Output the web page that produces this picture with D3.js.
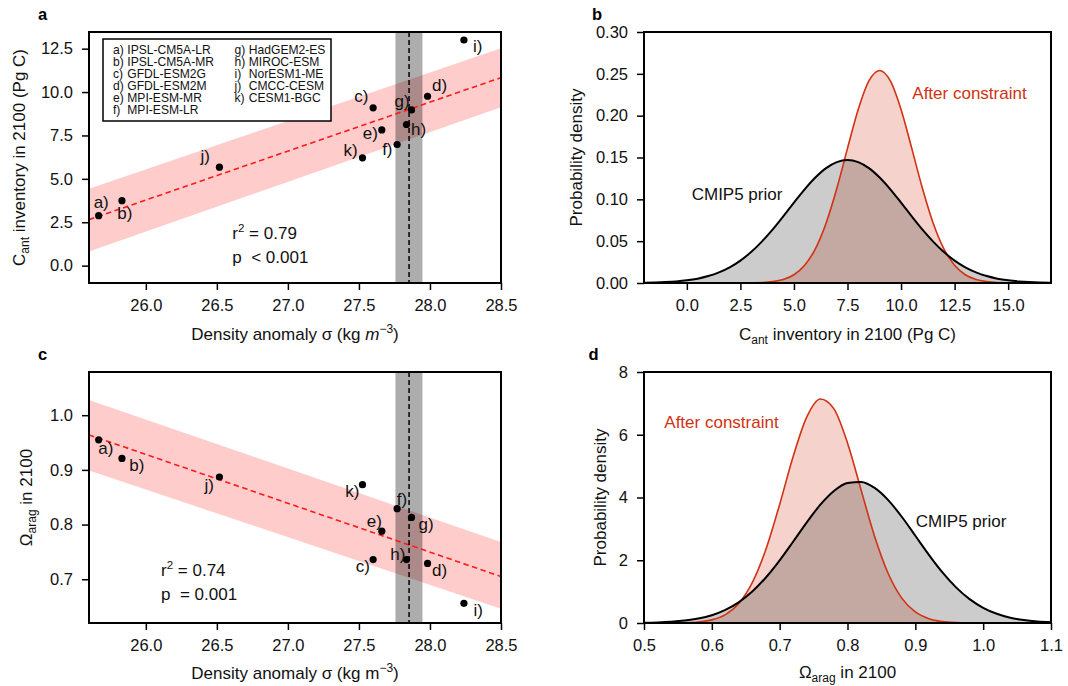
<!DOCTYPE html>
<html><head><meta charset="utf-8">
<script src="https://cdn.jsdelivr.net/npm/d3@7"></script>
<style>
body{margin:0;background:#fff;}
text{font-family:"Liberation Sans",Arial,Helvetica,sans-serif;}
</style></head><body>
<svg id="chart" width="1068" height="686"></svg>
<script>
// ---------------- data ----------------
const modelLetters = ["a","b","c","d","e","f","g","h","i","j","k"];
const modelNames = ["IPSL-CM5A-LR","IPSL-CM5A-MR","GFDL-ESM2G","GFDL-ESM2M","MPI-ESM-MR","MPI-ESM-LR","HadGEM2-ES","MIROC-ESM","NorESM1-ME","CMCC-CESM","CESM1-BGC"];
const densityAnomaly = [25.668,25.832,27.600,27.983,27.661,27.769,27.870,27.835,28.239,26.518,27.525];
const cantInventory = [2.88,3.74,9.09,9.76,7.82,6.98,8.97,8.13,13.00,5.67,6.21];
const omegaArag = [0.955,0.921,0.736,0.729,0.788,0.829,0.813,0.736,0.656,0.887,0.873];

const fitX = [25.6, 28.5];
const fitCant = [2.65, 10.83];
const fitCantLo = [0.82, 9.12];
const fitCantHi = [4.43, 12.52];
const fitOmega = [0.964, 0.705];
const fitOmegaLo = [0.899, 0.646];
const fitOmegaHi = [1.028, 0.768];

const obsDensity = 27.853;
const obsDensityRange = [27.757, 27.947];

const statsA = ["0.79", "<\u00a00.001"];
const statsC = ["0.74", "=\u00a00.001"];

const cantGrid = [-2,-1.5,-1,-0.5,0,0.5,1,1.5,2,2.5,3,3.5,4,4.5,5,5.5,6,6.5,7,7.5,8,8.5,9,9.5,10,10.5,11,11.5,12,12.5,13,13.5,14,14.5,15,15.5,16,16.5,17];
const cantPrior = [0.0003,0.0006,0.0011,0.0019,0.0032,0.0052,0.0083,0.0127,0.0187,0.0268,0.0370,0.0495,0.0638,0.0797,0.0960,0.1120,0.1261,0.1373,0.1445,0.1470,0.1445,0.1373,0.1261,0.1120,0.0960,0.0797,0.0638,0.0495,0.0370,0.0268,0.0187,0.0127,0.0083,0.0052,0.0032,0.0019,0.0011,0.0006,0.0003];
const cantPost = [0,0,0,0,0,0,0,0,0,0,0.0002,0.0005,0.0016,0.0042,0.0099,0.0212,0.0409,0.0715,0.1129,0.1609,0.2074,0.2415,0.2540,0.2415,0.2074,0.1609,0.1129,0.0715,0.0409,0.0212,0.0099,0.0042,0.0016,0.0005,0.0002,0,0,0,0];

const omegaGrid = [0.50,0.52,0.54,0.56,0.58,0.60,0.62,0.64,0.66,0.68,0.70,0.72,0.74,0.76,0.78,0.80,0.82,0.84,0.86,0.88,0.90,0.92,0.94,0.96,0.98,1.00,1.02,1.04,1.06,1.08,1.10];
const omegaPrior = [0.009,0.019,0.039,0.076,0.141,0.249,0.418,0.667,1.012,1.458,1.996,2.597,3.210,3.770,4.207,4.462,4.496,4.305,3.917,3.386,2.782,2.172,1.611,1.135,0.760,0.484,0.293,0.168,0.092,0.048,0.023];
const omegaPost = [0.0001,0.0005,0.0024,0.0096,0.033,0.100,0.268,0.629,1.301,2.365,3.780,5.313,6.567,7.140,6.826,5.739,4.243,2.759,1.578,0.794,0.351,0.137,0.047,0.014,0.004,0.001,0,0,0,0,0];

const densityTicks = [26.0,26.5,27.0,27.5,28.0,28.5];
const cantTicksY = [0,2.5,5,7.5,10,12.5];
const omegaTicksY = [0.7,0.8,0.9,1.0];
const pdfCantTicksX = [0,2.5,5,7.5,10,12.5,15];
const pdfCantTicksY = [0,0.05,0.10,0.15,0.20,0.25,0.30];
const pdfOmegaTicksX = [0.5,0.6,0.7,0.8,0.9,1.0,1.1];
const pdfOmegaTicksY = [0,2,4,6,8];

// ---------------- layout ----------------
const labelOffA = [[-5,-8],[-4.7,18],[-19,-6],[4.4,-5.6],[-19,9],[-15,11],[-17,-3],[4.4,10],[9,11.7],[-19,-5],[-19,-2]];
const labelOffC = [[-0.4,14],[7.3,12.3],[-17.3,12],[4.4,12.4],[-15,-4.6],[-0.3,-4],[7,12.3],[-16.3,0.3],[9.6,12.4],[-15,13.7],[-17.3,12]];

const FS = 17, TFS = 16.5;
const RED = "rgb(208,50,18)";
const svg = d3.select("#chart");

function makePanel(id, box, xd, yd, xt, yt, xf, yf) {
  const [L, T, R, B] = box;
  const x = d3.scaleLinear().domain(xd).range([L, R]);
  const y = d3.scaleLinear().domain(yd).range([B, T]);
  const g = svg.append("g");
  svg.append("defs").append("clipPath").attr("id", "clip" + id)
    .append("rect").attr("x", L).attr("y", T).attr("width", R - L).attr("height", B - T);
  const plot = g.append("g").attr("clip-path", `url(#clip${id})`);
  const ax = g.append("g").attr("transform", `translate(0,${B})`)
    .call(d3.axisBottom(x).tickValues(xt).tickFormat(d3.format(xf)).tickSize(7).tickPadding(9).tickSizeOuter(0));
  const ay = g.append("g").attr("transform", `translate(${L},0)`)
    .call(d3.axisLeft(y).tickValues(yt).tickFormat(d3.format(yf)).tickSize(7).tickPadding(9).tickSizeOuter(0));
  [ax, ay].forEach(a => {
    a.select(".domain").remove();
    a.selectAll("line").attr("stroke-width", 1.5);
    a.selectAll("text").attr("font-size", TFS).attr("fill", "#111").style("font-family", '"Liberation Sans",Arial,sans-serif');
  });
  const frame = g.append("rect").attr("x", L).attr("y", T).attr("width", R - L).attr("height", B - T)
    .attr("fill", "none").attr("stroke", "#000").attr("stroke-width", 2);
  return {g, plot, x, y, frame, box};
}

function panelLetter(t, x, y) {
  svg.append("text").attr("x", x).attr("y", y).attr("font-size", 16.5).attr("font-weight", "bold").text(t);
}

function scatterPanel(P, yvals, fitY, fitLo, fitHi, offs) {
  const {plot, x, y, g} = P;
  const idx = [0, 1];
  plot.append("path").datum(idx)
    .attr("d", d3.area().x(i => x(fitX[i])).y0(i => y(fitLo[i])).y1(i => y(fitHi[i])))
    .attr("fill", "rgba(255,0,0,0.2)");
  plot.append("rect").attr("x", x(obsDensityRange[0])).attr("y", P.box[1])
    .attr("width", x(obsDensityRange[1]) - x(obsDensityRange[0])).attr("height", P.box[3] - P.box[1])
    .attr("fill", "rgba(0,0,0,0.32)");
  plot.append("path").datum(idx)
    .attr("d", d3.line().x(i => x(fitX[i])).y(i => y(fitY[i])))
    .attr("fill", "none").attr("stroke", "#ff1a1a").attr("stroke-width", 1.6).attr("stroke-dasharray", "5.5,3.5");
  plot.append("line").attr("x1", x(obsDensity)).attr("x2", x(obsDensity))
    .attr("y1", P.box[1]).attr("y2", P.box[3])
    .attr("stroke", "#000").attr("stroke-width", 1.5).attr("stroke-dasharray", "5,3");
  g.selectAll(".pt").data(modelLetters).join("circle")
    .attr("cx", (d, i) => x(densityAnomaly[i])).attr("cy", (d, i) => y(yvals[i]))
    .attr("r", 3.6).attr("fill", "#000");
  g.selectAll(".lbl").data(modelLetters).join("text")
    .attr("x", (d, i) => x(densityAnomaly[i]) + offs[i][0])
    .attr("y", (d, i) => y(yvals[i]) + offs[i][1])
    .attr("font-size", FS).attr("fill", "#111").text(d => d + ")");
  P.frame.raise();
}

function statsText(x0, y0, vals) {
  const t1 = svg.append("text").attr("x", x0).attr("y", y0).attr("font-size", FS).attr("fill", "#111");
  t1.append("tspan").text("r");
  t1.append("tspan").attr("dy", -7).attr("font-size", 11.5).text("2");
  t1.append("tspan").attr("dy", 7).text(" = " + vals[0]);
  svg.append("text").attr("x", x0).attr("y", y0 + 24).attr("font-size", FS).attr("fill", "#111")
    .text("p\u00a0\u00a0" + vals[1]);
}

// ---------- Panel a ----------
const PA = makePanel("a", [89, 32, 501, 283], [25.6, 28.5], [-1, 13.46], densityTicks, cantTicksY, ".1f", ".1f");
scatterPanel(PA, cantInventory, fitCant, fitCantLo, fitCantHi, labelOffA);
panelLetter("a", 38, 20);
statsText(232.3, 239, statsA);
// legend
const leg = svg.append("g");
leg.append("rect").attr("x", 103).attr("y", 39).attr("width", 228).attr("height", 82)
  .attr("fill", "#fff").attr("stroke", "#000").attr("stroke-width", 1.5);
modelLetters.forEach((l, i) => {
  const col = i < 6 ? 0 : 1, row = i < 6 ? i : i - 6;
  const lx = col === 0 ? 113 : 234.5;
  const ly = 53.5 + row * 12;
  leg.append("text").attr("x", lx).attr("y", ly).attr("font-size", 12.1).attr("fill", "#111").text(l + ")");
  leg.append("text").attr("x", lx + 14.3).attr("y", ly).attr("font-size", 12.1).attr("fill", "#111").text(modelNames[i]);
});
// axis labels a
{
  const t = svg.append("text").attr("x", 295).attr("y", 340).attr("text-anchor", "middle").attr("font-size", FS).attr("fill", "#111");
  t.append("tspan").text("Density anomaly \u03c3 (kg ");
  t.append("tspan").attr("font-style", "italic").text("m");
  t.append("tspan").attr("dy", -7).attr("font-size", 12).text("\u22123");
  t.append("tspan").attr("dy", 7).text(")");
  const ty = svg.append("text").attr("transform", "translate(25,157.5) rotate(-90)").attr("text-anchor", "middle").attr("font-size", FS).attr("fill", "#111");
  ty.append("tspan").text("C");
  ty.append("tspan").attr("dy", 4).attr("font-size", 12).text("ant");
  ty.append("tspan").attr("dy", -4).text(" inventory in 2100 (Pg C)");
}

// ---------- Panel c ----------
const PC = makePanel("c", [89, 372, 501, 623], [25.6, 28.5], [0.62, 1.079], densityTicks, omegaTicksY, ".1f", ".1f");
scatterPanel(PC, omegaArag, fitOmega, fitOmegaLo, fitOmegaHi, labelOffC);
panelLetter("c", 38, 360);
statsText(161, 576, statsC);
{
  const t = svg.append("text").attr("x", 295).attr("y", 679).attr("text-anchor", "middle").attr("font-size", FS).attr("fill", "#111");
  t.append("tspan").text("Density anomaly \u03c3 (kg m");
  t.append("tspan").attr("dy", -7).attr("font-size", 12).text("\u22123");
  t.append("tspan").attr("dy", 7).text(")");
  const ty = svg.append("text").attr("transform", "translate(31.5,497.5) rotate(-90)").attr("text-anchor", "middle").attr("font-size", FS).attr("fill", "#111");
  ty.append("tspan").text("\u03a9");
  ty.append("tspan").attr("dy", 4).attr("font-size", 12).text("arag");
  ty.append("tspan").attr("dy", -4).text(" in 2100");
}

// ---------- PDF panels ----------
function pdfPanel(P, grid, prior, post) {
  const {plot, x, y} = P;
  const idx = d3.range(grid.length);
  const area = vals => d3.area().curve(d3.curveMonotoneX).x(i => x(grid[i])).y0(y(0)).y1(i => y(vals[i]));
  const line = vals => d3.line().curve(d3.curveMonotoneX).x(i => x(grid[i])).y(i => y(vals[i]));
  plot.append("path").datum(idx).attr("d", area(post)).attr("fill", "rgba(208,50,18,0.22)");
  plot.append("path").datum(idx).attr("d", area(prior)).attr("fill", "rgba(0,0,0,0.2)");
  plot.append("path").datum(idx).attr("d", line(post)).attr("fill", "none").attr("stroke", RED).attr("stroke-width", 1.6);
  plot.append("path").datum(idx).attr("d", line(prior)).attr("fill", "none").attr("stroke", "#000").attr("stroke-width", 2);
  P.frame.raise();
}

const PB = makePanel("b", [644, 32, 1051, 283], [-2, 17], [0, 0.30], pdfCantTicksX, pdfCantTicksY, ".1f", ".2f");
pdfPanel(PB, cantGrid, cantPrior, cantPost);
panelLetter("b", 592, 20);
svg.append("text").attr("x", 912.3).attr("y", 99).attr("font-size", FS).attr("fill", RED).text("After constraint");
svg.append("text").attr("x", 691.7).attr("y", 200).attr("font-size", FS).attr("fill", "#111").text("CMIP5 prior");
{
  const t = svg.append("text").attr("x", 847.5).attr("y", 340).attr("text-anchor", "middle").attr("font-size", FS).attr("fill", "#111");
  t.append("tspan").text("C");
  t.append("tspan").attr("dy", 4).attr("font-size", 12).text("ant");
  t.append("tspan").attr("dy", -4).text(" inventory in 2100 (Pg C)");
  svg.append("text").attr("transform", "translate(582,157.5) rotate(-90)").attr("text-anchor", "middle").attr("font-size", FS).attr("fill", "#111").text("Probability density");
}

const PD = makePanel("d", [644, 372, 1051, 623], [0.5, 1.1], [0, 8], pdfOmegaTicksX, pdfOmegaTicksY, ".1f", "d");
pdfPanel(PD, omegaGrid, omegaPrior, omegaPost);
panelLetter("d", 588.5, 360);
svg.append("text").attr("x", 664.3).attr("y", 427.5).attr("font-size", FS).attr("fill", RED).text("After constraint");
svg.append("text").attr("x", 915.7).attr("y", 526.5).attr("font-size", FS).attr("fill", "#111").text("CMIP5 prior");
{
  const t = svg.append("text").attr("x", 847.5).attr("y", 678).attr("text-anchor", "middle").attr("font-size", FS).attr("fill", "#111");
  t.append("tspan").text("\u03a9");
  t.append("tspan").attr("dy", 4).attr("font-size", 12).text("arag");
  t.append("tspan").attr("dy", -4).text(" in 2100");
  svg.append("text").attr("transform", "translate(606,497.5) rotate(-90)").attr("text-anchor", "middle").attr("font-size", FS).attr("fill", "#111").text("Probability density");
}
</script>
</body></html>
